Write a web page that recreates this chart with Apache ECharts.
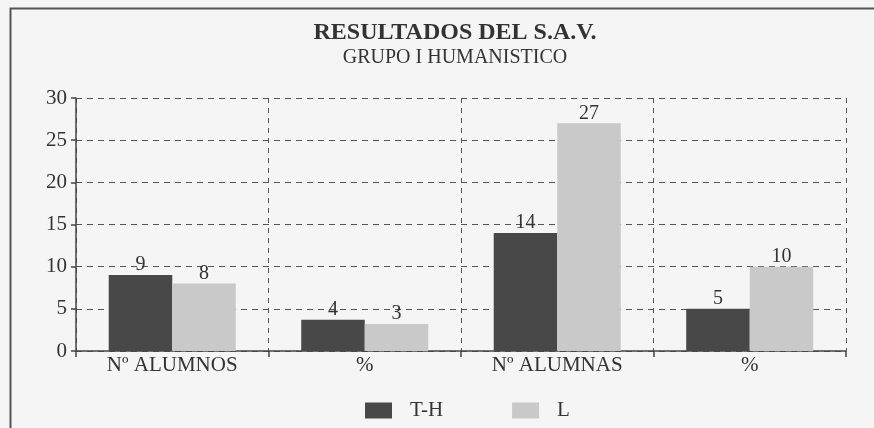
<!DOCTYPE html>
<html>
<head>
<meta charset="utf-8">
<script src="https://cdn.jsdelivr.net/npm/echarts@6/dist/echarts.min.js"></script>
<style>
    html, body {margin: 0; padding: 0; background: #f4f5f4;}
    #chart {width: 874px; height: 428px;}
</style>
</head>
<body>
<div id="chart"></div>
<script>
// categorias del eje X
var categories = ['Nº ALUMNOS', '%', 'Nº ALUMNAS', '%'];
// series
var serieTH = [9, 3.7, 14, 5];
var serieL = [8, 3.2, 27, 10];
var seriesNames = ['T-H', 'L'];
var yTicks = {min: 0, max: 30, interval: 5};

var font = '"Liberation Serif", "DejaVu Serif", serif';
var ink = '#333';

function barSeries(name, data, color) {
    return {
        name: name,
        type: 'bar',
        data: data,
        barWidth: '33%',
        barGap: '0%',
        itemStyle: {color: color},
        label: {
            show: true,
            position: 'top',
            distance: 0,
            color: ink,
            fontFamily: font,
            fontSize: 20,
            formatter: function (p) {
                return Math.round(p.value);
            }
        }
    };
}

var myChart = echarts.init(document.getElementById('chart'));
myChart.setOption({
    backgroundColor: '#f4f5f4',
    animation: false,
    title: {
        text: 'RESULTADOS DEL S.A.V.',
        subtext: 'GRUPO I HUMANISTICO',
        left: 450,
        textAlign: 'center',
        top: 16,
        itemGap: 3,
        textStyle: {fontFamily: font, fontSize: 24, fontWeight: 'bold', color: ink},
        subtextStyle: {fontFamily: font, fontSize: 20, color: ink}
    },
    legend: {
        data: seriesNames,
        left: 360,
        top: 395,
        itemWidth: 27,
        itemHeight: 16,
        itemGap: 69,
        icon: 'rect',
        textStyle: {fontFamily: font, fontSize: 21, color: ink, padding: [0, 0, 0, 13]}
    },
    grid: {left: 76, right: 28, top: 98, bottom: 77},
    xAxis: {
        type: 'category',
        data: categories,
        axisLine: {lineStyle: {color: '#444', width: 1.5}},
        axisTick: {show: true, length: 6, lineStyle: {color: '#444', width: 1.5}},
        axisLabel: {fontFamily: font, fontSize: 21, color: ink, margin: 4},
        splitLine: {show: true, lineStyle: {color: '#555', type: [5, 5], width: 1}}
    },
    yAxis: {
        type: 'value',
        min: yTicks.min,
        max: yTicks.max,
        interval: yTicks.interval,
        axisLine: {show: true, lineStyle: {color: '#444', width: 1.5}},
        axisTick: {show: true, length: 5, lineStyle: {color: '#444', width: 1.5}},
        axisLabel: {fontFamily: font, fontSize: 21, color: ink, margin: 9},
        splitLine: {show: true, lineStyle: {color: '#555', type: [6, 5], width: 1}}
    },
    graphic: [{
        type: 'rect',
        left: 8,
        top: 6,
        shape: {width: 900, height: 460},
        style: {fill: null, stroke: '#555', lineWidth: 2}
    }],
    series: [
        barSeries(seriesNames[0], serieTH, '#484848'),
        barSeries(seriesNames[1], serieL, '#c9c9c9')
    ]
});
</script>
</body>
</html>
